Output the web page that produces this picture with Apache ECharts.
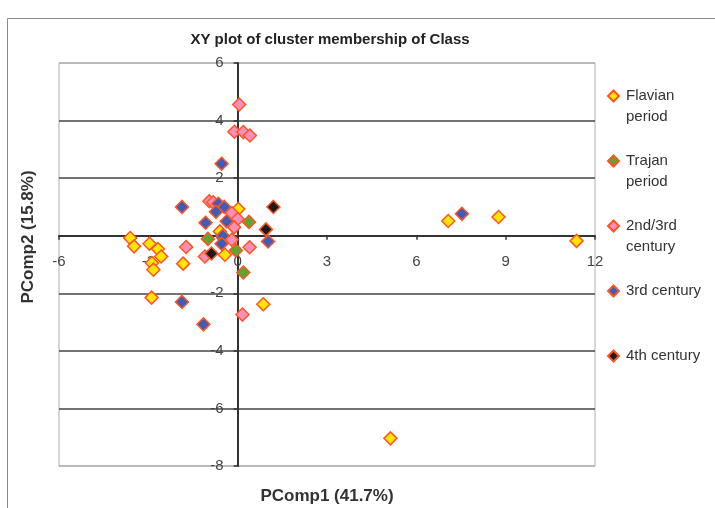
<!DOCTYPE html>
<html>
<head>
<meta charset="utf-8">
<script src="https://cdn.jsdelivr.net/npm/echarts@6/dist/echarts.min.js"></script>
<style>
html,body{margin:0;padding:0;background:#fff;}
#chart{width:715px;height:508px;}
</style>
</head>
<body>
<div id="chart"></div>
<script>
// ---- Data ----
const seriesNames = ['Flavian period', 'Trajan period', '2nd/3rd century', '3rd century', '4th century'];
const legendLabels = [' \nFlavian\nperiod', ' \nTrajan\nperiod', ' \n2nd/3rd\ncentury', ' \n3rd century\n ', ' \n4th century\n '];

const flavian = [
  [5.13, -7.04], [11.38, -0.18], [8.76, 0.65], [7.07, 0.51],
  [-3.61, -0.08], [-3.48, -0.37], [-2.96, -0.28], [-2.68, -0.46],
  [-2.57, -0.72], [-2.88, -0.95], [-2.83, -1.18], [-1.83, -0.97],
  [-2.89, -2.15], [0.86, -2.38], [-0.43, -0.66], [0.02, 0.93], [-0.6, 0.15]
];
const trajan = [
  [0.19, -1.28], [-0.06, -0.51], [-1.0, -0.11], [0.38, 0.48]
];
const century23 = [
  [0.05, 4.56], [-0.11, 3.61], [0.19, 3.6], [0.41, 3.48],
  [-0.95, 1.2], [-0.82, 1.16], [-0.2, 0.79], [0.0, 0.58], [-0.12, 0.29],
  [-0.2, -0.14], [-1.73, -0.39], [-1.1, -0.72], [0.4, -0.4], [0.16, -2.74]
];
const century3 = [
  [7.53, 0.76], [-0.54, 2.5], [-1.87, 1.0], [-0.65, 1.11], [-0.45, 1.0],
  [-0.73, 0.83], [-0.37, 0.5], [-1.08, 0.45], [1.02, -0.2], [-0.5, 0.0],
  [-0.54, -0.28], [-1.87, -2.3], [-1.15, -3.08]
];
const century4 = [
  [1.2, 1.0], [0.95, 0.22], [-0.88, -0.62]
];
const seriesData = [flavian, trajan, century23, century3, century4];
const fillColors = ['#ffe600', '#5aa832', '#f78fb8', '#3e5cb8', '#1c1c1c'];

const xTicks = { min: -6, max: 12, interval: 3 };
const yTicks = { min: -8, max: 6, interval: 2 };

// ---- Chart ----
const chart = echarts.init(document.getElementById('chart'), null, { renderer: 'canvas' });
const font = 'Liberation Sans, Arial, sans-serif';

// axes cross at value 0: shift the axes from the grid edge onto the zero position
const gridBox = { left: 59, right: 120, top: 63, bottom: 42 };
const plotW = 715 - gridBox.left - gridBox.right;
const plotH = 508 - gridBox.top - gridBox.bottom;
const xAxisOffset = -plotH * (0 - yTicks.min) / (yTicks.max - yTicks.min);
const yAxisOffset = -plotW * (0 - xTicks.min) / (xTicks.max - xTicks.min);

const option = {
  animation: false,
  backgroundColor: '#fff',
  textStyle: { fontFamily: font },
  grid: {
    left: gridBox.left, right: gridBox.right, top: gridBox.top, bottom: gridBox.bottom,
    containLabel: false, outerBoundsMode: 'none',
    show: true, borderColor: '#b0b0b0', borderWidth: 1, backgroundColor: 'transparent'
  },
  xAxis: {
    type: 'value', min: xTicks.min, max: xTicks.max, interval: xTicks.interval,
    position: 'bottom', offset: xAxisOffset,
    axisLine: { onZero: false, lineStyle: { color: '#333', width: 2 } },
    axisTick: { show: true, length: 4, lineStyle: { color: '#333', width: 1.5 } },
    axisLabel: { margin: 19, fontSize: 15, color: '#444', fontFamily: font },
    splitLine: { show: false },
    name: 'PComp1 (41.7%)', nameLocation: 'middle', nameGap: 252,
    nameTextStyle: { fontSize: 17, fontWeight: 'bold', color: '#333', fontFamily: font }
  },
  yAxis: {
    type: 'value', min: yTicks.min, max: yTicks.max, interval: yTicks.interval,
    position: 'left', offset: yAxisOffset,
    axisLine: { onZero: false, lineStyle: { color: '#333', width: 2 } },
    axisTick: { show: true, length: 4, lineStyle: { color: '#333', width: 1.5 } },
    axisLabel: { margin: 14, fontSize: 15, color: '#444', fontFamily: font },
    splitLine: { show: true, lineStyle: { color: ['#b0b0b0', '#444', '#444', '#444', '#444', '#444', '#444', '#b0b0b0'], width: 1.5 } }
  },
  legend: {
    orient: 'vertical', left: 607, top: 64.5, padding: 0, itemGap: 2,
    itemWidth: 11, itemHeight: 11, icon: 'diamond',
    data: seriesNames,
    formatter: function (name) { return legendLabels[seriesNames.indexOf(name)]; },
    textStyle: { fontSize: 15, lineHeight: 21, color: '#333', fontFamily: font, padding: [0, 0, 0, 2] }
  },
  graphic: [
    { type: 'rect', silent: true, z: -10,
      shape: { x: 7.5, y: 18.5, width: 800, height: 600 },
      style: { fill: 'none', stroke: '#8a8a8a', lineWidth: 1 } },
    { type: 'text', x: 330, y: 40, silent: true,
      style: { text: 'XY plot of cluster membership of Class', fontSize: 15, fontWeight: 'bold',
               fontFamily: 'Liberation Sans Narrow, Arial Narrow, sans-serif', fill: '#222',
               align: 'center', verticalAlign: 'middle' } },
    { type: 'text', x: 28, y: 237, rotation: Math.PI / 2, silent: true,
      style: { text: 'PComp2 (15.8%)', fontSize: 17, fontWeight: 'bold', fontFamily: font,
               fill: '#333', align: 'center', verticalAlign: 'middle' } }
  ],
  series: seriesNames.map(function (name, i) {
    return {
      name: name, type: 'scatter', symbol: 'diamond', symbolSize: 13,
      data: seriesData[i],
      itemStyle: { color: fillColors[i], borderColor: '#ff5522', borderWidth: 1.5, opacity: 1 },
      z: 2 + i
    };
  })
};
chart.setOption(option);
</script>
</body>
</html>
